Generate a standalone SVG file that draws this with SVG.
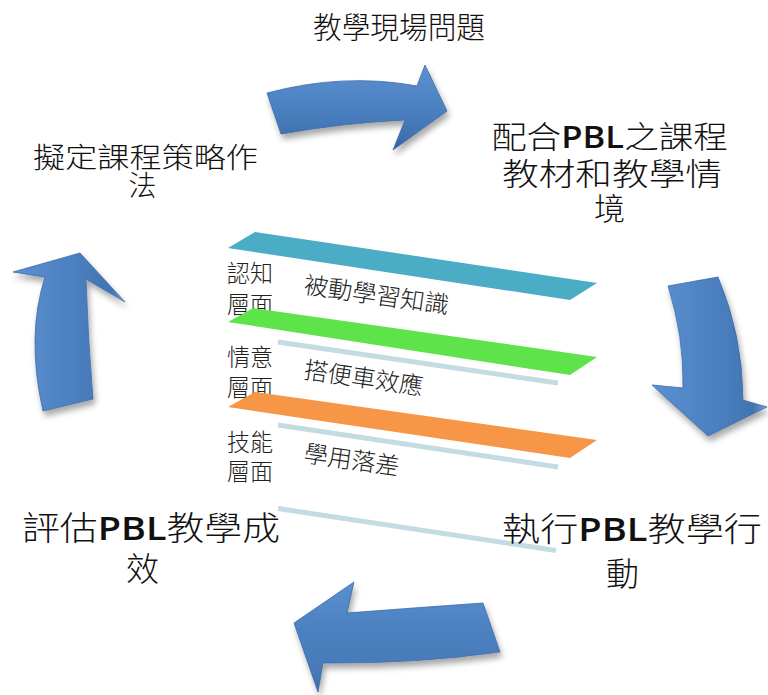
<svg xmlns="http://www.w3.org/2000/svg" width="768" height="695" viewBox="0 0 768 695">
  <defs>
    <style>
      .big { font-family: "Noto Sans CJK TC", "Noto Sans CJK SC", sans-serif; font-weight: 300; fill: #111111; }
      .pbl { font-family: "Open Sans", "Noto Sans", sans-serif; font-weight: 600; }
      .lbl { font-family: "Noto Sans CJK TC", "Noto Sans CJK SC", sans-serif; font-weight: 300; fill: #222222; font-size: 24px; }
      .guide { stroke: #c3dbe3; stroke-width: 5; stroke-linecap: butt; fill: none; }
      .arrow { stroke: #3c6ca6; stroke-width: 0.8; filter: url(#shadow); }
    </style>
    <linearGradient id="gV" x1="0" y1="0" x2="0" y2="1">
      <stop offset="0" stop-color="#5b90d2"/>
      <stop offset="0.55" stop-color="#4b7fbf"/>
      <stop offset="0.85" stop-color="#3f71ae"/>
      <stop offset="1" stop-color="#2f5d96"/>
    </linearGradient>
    <linearGradient id="gVr" x1="0" y1="1" x2="0" y2="0">
      <stop offset="0" stop-color="#3a68a3"/>
      <stop offset="0.15" stop-color="#4678b6"/>
      <stop offset="0.6" stop-color="#4d82c2"/>
      <stop offset="1" stop-color="#5a8fd0"/>
    </linearGradient>
    <linearGradient id="gH" x1="0" y1="0" x2="1" y2="0">
      <stop offset="0" stop-color="#5b90d2"/>
      <stop offset="0.6" stop-color="#4a7ebe"/>
      <stop offset="0.88" stop-color="#4174b2"/>
      <stop offset="1" stop-color="#6fa4e0"/>
    </linearGradient>
    <filter id="shadow" x="-20%" y="-20%" width="140%" height="150%">
      <feGaussianBlur in="SourceAlpha" stdDeviation="3"/>
      <feOffset dx="2" dy="5" result="b"/>
      <feComponentTransfer><feFuncA type="linear" slope="0.35"/></feComponentTransfer>
      <feMerge><feMergeNode/><feMergeNode in="SourceGraphic"/></feMerge>
    </filter>
  </defs>

  <rect width="768" height="695" fill="#ffffff"/>

  <!-- central layers -->
  <g id="layers">
    <g id="layer-cognitive">
      <polygon points="228,248 255,232 597,283 570,300" fill="#4bacc6"/>
      <text class="lbl"><tspan x="227" y="281.5" textLength="46" lengthAdjust="spacingAndGlyphs">認知</tspan><tspan x="227" y="313" textLength="46" lengthAdjust="spacingAndGlyphs">層面</tspan></text>
      <text class="lbl" x="303" y="293" transform="rotate(8.2 303 293)" textLength="146" lengthAdjust="spacingAndGlyphs">被動學習知識</text>
    </g>
    <g id="layer-affective">
      <polygon points="228,322 253,308 597,357 570,375" fill="#5ee34a"/>
      <line class="guide" x1="278" y1="342" x2="558" y2="383"/>
      <text class="lbl"><tspan x="227" y="366" textLength="46" lengthAdjust="spacingAndGlyphs">情意</tspan><tspan x="227" y="396" textLength="46" lengthAdjust="spacingAndGlyphs">層面</tspan></text>
      <text class="lbl" x="303" y="378" transform="rotate(8.2 303 378)" textLength="120" lengthAdjust="spacingAndGlyphs">搭便車效應</text>
    </g>
    <g id="layer-skill">
      <polygon points="228,407 255,392 597,440 570,458" fill="#f79646"/>
      <line class="guide" x1="278" y1="425" x2="558" y2="467"/>
      <text class="lbl"><tspan x="227" y="451" textLength="46" lengthAdjust="spacingAndGlyphs">技能</tspan><tspan x="227" y="480" textLength="46" lengthAdjust="spacingAndGlyphs">層面</tspan></text>
      <text class="lbl" x="303" y="461.5" transform="rotate(8.2 303 461.5)" textLength="96" lengthAdjust="spacingAndGlyphs">學用落差</text>
    </g>
    <line class="guide" x1="278" y1="508.5" x2="556" y2="550.5"/>
  </g>

  <!-- connectors: curved block arrows -->
  <g id="connectors">
    <path id="arrow-top" class="arrow" fill="url(#gV)" d="M267,93 Q344,72.5 417,86 L425,65 L447,111 L393,150 L405,120 Q343,123 281,134 Z"/>
    <path id="arrow-right" class="arrow" fill="url(#gH)" d="M668,286 L718,277 Q742.6,335 743,400 L767,407 L708,436 L652,385 L683,388 Q684,336 668,286 Z"/>
    <path id="arrow-bottom" class="arrow" fill="url(#gVr)" d="M483,603 L500,652 Q415,664 323,663 L318,692 L294,623 L354,582 L347,613 Q412,608 483,603 Z"/>
    <path id="arrow-left" class="arrow" fill="url(#gH)" d="M43,411 L93,399 Q88,341 86,279 L125,302 L80,253 L13,272 L45,277 Q26,336 43,411 Z"/>
  </g>

  <!-- nodes -->
  <g id="node-problem">
    <text class="big" x="313" y="38" font-size="30" textLength="172" lengthAdjust="spacingAndGlyphs">教學現場問題</text>
  </g>
  <g id="node-curriculum">
    <text class="big" font-size="31"><tspan x="492" y="148" textLength="236" lengthAdjust="spacingAndGlyphs">配合<tspan class="pbl">PBL</tspan>之課程</tspan><tspan x="502" y="184.5" textLength="220" lengthAdjust="spacingAndGlyphs">教材和教學情</tspan><tspan x="594" y="219.5">境</tspan></text>
  </g>
  <g id="node-action">
    <text class="big" font-size="33"><tspan x="502" y="541" textLength="260" lengthAdjust="spacingAndGlyphs">執行<tspan class="pbl">PBL</tspan>教學行</tspan><tspan x="606" y="586">動</tspan></text>
  </g>
  <g id="node-evaluate">
    <text class="big" font-size="33"><tspan x="22" y="540" textLength="258" lengthAdjust="spacingAndGlyphs">評估<tspan class="pbl">PBL</tspan>教學成</tspan><tspan x="126" y="581">效</tspan></text>
  </g>
  <g id="node-strategy">
    <text class="big" font-size="28"><tspan x="33" y="168" textLength="225" lengthAdjust="spacingAndGlyphs">擬定課程策略作</tspan><tspan x="128.5" y="196">法</tspan></text>
  </g>
</svg>
